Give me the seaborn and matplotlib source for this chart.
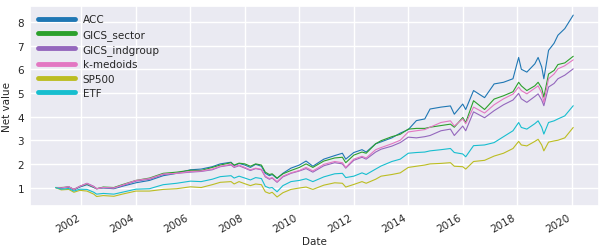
import pandas as pd
import numpy as np
import matplotlib.pyplot as plt
import seaborn as sns

# Daty
dates = ['2001-01-19', '2001-04-04', '2001-07-15', '2001-09-21', '2001-12-10',
         '2002-03-15', '2002-06-15', '2002-07-23', '2002-10-20', '2003-03-11',
         '2003-07-01', '2004-01-01', '2004-07-01', '2005-01-01', '2005-07-01',
         '2006-01-01', '2006-05-25', '2006-10-20', '2007-02-05', '2007-06-30',
         '2007-08-10', '2007-10-15', '2008-01-01', '2008-03-15', '2008-05-25',
         '2008-08-10', '2008-10-01', '2008-11-25', '2009-01-01', '2009-03-08',
         '2009-05-25', '2009-09-10', '2010-01-01', '2010-04-01', '2010-07-01',
         '2010-11-25', '2011-04-20', '2011-08-01', '2011-09-15', '2012-01-01',
         '2012-04-20', '2012-06-15', '2012-10-20', '2013-01-01', '2013-05-25',
         '2013-09-15', '2014-01-01', '2014-04-20', '2014-08-10', '2014-10-20',
         '2015-03-15', '2015-07-20', '2015-09-10', '2016-01-01', '2016-02-10',
         '2016-05-25', '2016-10-20', '2017-02-25', '2017-07-01', '2017-11-05',
         '2018-01-20', '2018-02-25', '2018-05-10', '2018-08-25', '2018-10-08',
         '2018-11-25', '2018-12-24', '2019-02-25', '2019-05-10', '2019-07-01',
         '2019-10-01', '2020-01-22']

acc = [1.00, 0.97, 1.02, 0.90, 1.02, 1.12, 1.00, 0.95, 0.98, 0.95,
       1.05, 1.20, 1.30, 1.50, 1.60, 1.75, 1.78, 1.88, 2.00, 2.07,
       1.92, 2.02, 1.95, 1.85, 1.98, 1.90, 1.60, 1.50, 1.55, 1.38,
       1.60, 1.82, 1.95, 2.12, 1.90, 2.20, 2.35, 2.45, 2.20, 2.48,
       2.60, 2.50, 2.85, 2.93, 3.10, 3.30, 3.45, 3.83, 3.90, 4.32,
       4.40, 4.45, 4.10, 4.53, 4.30, 5.10, 4.80, 5.38, 5.45, 5.60,
       6.50, 6.00, 5.88, 6.23, 6.50, 6.10, 5.60, 6.80, 7.10, 7.44,
       7.72, 8.29]
gics_sector = [1.00, 1.00, 1.02, 0.92, 1.05, 1.15, 1.02, 0.95, 1.02, 1.00,
               1.12, 1.30, 1.40, 1.60, 1.65, 1.73, 1.72, 1.85, 1.95, 2.05,
               1.95, 2.03, 2.00, 1.90, 2.00, 1.95, 1.65, 1.55, 1.58, 1.40,
               1.58, 1.72, 1.85, 2.00, 1.85, 2.12, 2.25, 2.28, 2.05, 2.37,
               2.50, 2.45, 2.85, 2.98, 3.15, 3.25, 3.47, 3.50, 3.50, 3.55,
               3.62, 3.68, 3.55, 3.96, 3.75, 4.67, 4.30, 4.74, 4.88, 5.05,
               5.45, 5.30, 5.10, 5.30, 5.45, 5.20, 4.82, 5.80, 5.95, 6.20,
               6.27, 6.55]
gics_indgroup = [1.00, 0.98, 1.03, 0.92, 1.05, 1.18, 1.05, 0.95, 1.00, 0.98,
                 1.08, 1.27, 1.35, 1.55, 1.60, 1.65, 1.68, 1.75, 1.88, 1.95,
                 1.85, 1.92, 1.82, 1.72, 1.80, 1.75, 1.45, 1.35, 1.40, 1.22,
                 1.45, 1.60, 1.70, 1.80, 1.65, 1.92, 2.05, 2.00, 1.82, 2.15,
                 2.28, 2.20, 2.50, 2.62, 2.75, 2.90, 3.13, 3.10, 3.15, 3.20,
                 3.40, 3.47, 3.20, 3.60, 3.40, 4.20, 3.95, 4.25, 4.50, 4.70,
                 4.98, 4.75, 4.60, 4.85, 4.96, 4.70, 4.46, 5.25, 5.40, 5.60,
                 5.75, 6.02]
k_medoids = [1.00, 0.98, 1.03, 0.92, 1.05, 1.17, 1.03, 0.95, 1.00, 0.98,
             1.10, 1.30, 1.38, 1.57, 1.60, 1.68, 1.70, 1.78, 1.90, 1.98,
             1.88, 1.95, 1.85, 1.75, 1.82, 1.77, 1.48, 1.38, 1.42, 1.25,
             1.48, 1.62, 1.72, 1.85, 1.70, 1.98, 2.10, 2.05, 1.85, 2.20,
             2.32, 2.25, 2.60, 2.69, 2.85, 3.00, 3.35, 3.40, 3.45, 3.55,
             3.75, 3.82, 3.60, 3.90, 3.70, 4.40, 4.15, 4.50, 4.75, 4.95,
             5.25, 5.10, 4.96, 5.20, 5.30, 5.00, 4.60, 5.60, 5.80, 6.02,
             6.15, 6.40]
sp500 = [1.00, 0.90, 0.92, 0.80, 0.88, 0.85, 0.72, 0.62, 0.66, 0.63,
         0.72, 0.85, 0.85, 0.92, 0.95, 1.03, 1.00, 1.12, 1.22, 1.25,
         1.15, 1.25, 1.16, 1.08, 1.15, 1.12, 0.82, 0.75, 0.80, 0.60,
         0.78, 0.92, 0.98, 1.02, 0.92, 1.10, 1.20, 1.18, 1.02, 1.13,
         1.25, 1.18, 1.35, 1.48, 1.55, 1.62, 1.85, 1.90, 1.95, 2.00,
         2.02, 2.05, 1.90, 1.88, 1.78, 2.10, 2.15, 2.33, 2.45, 2.65,
         2.95, 2.80, 2.76, 2.95, 3.04, 2.80, 2.55, 2.92, 2.97, 3.00,
         3.10, 3.54]
etf = [1.00, 0.93, 0.96, 0.85, 0.93, 0.92, 0.80, 0.72, 0.75, 0.72,
       0.80, 0.93, 0.95, 1.12, 1.18, 1.27, 1.25, 1.35, 1.46, 1.50,
       1.40, 1.48, 1.40, 1.32, 1.42, 1.38, 1.05, 0.98, 1.00, 0.82,
       1.08, 1.25, 1.30, 1.37, 1.25, 1.45, 1.58, 1.60, 1.42, 1.48,
       1.62, 1.55, 1.78, 1.91, 2.10, 2.20, 2.45, 2.48, 2.50, 2.55,
       2.60, 2.65, 2.48, 2.42, 2.30, 2.77, 2.80, 2.90, 3.15, 3.40,
       3.75, 3.54, 3.47, 3.70, 3.82, 3.55, 3.26, 3.75, 3.82, 3.90,
       4.03, 4.46]

names = ['ACC', 'GICS_sector', 'GICS_indgroup', 'k-medoids', 'SP500', 'ETF']
colors = ['#1f77b4', '#2ca02c', '#9467bd', '#e377c2', '#bcbd22', '#17becf']

df = pd.DataFrame({'Date': pd.to_datetime(dates), 'ACC': acc,
                   'GICS_sector': gics_sector, 'GICS_indgroup': gics_indgroup,
                   'k-medoids': k_medoids, 'SP500': sp500, 'ETF': etf})
df_long = df.melt(id_vars='Date', var_name='Strategy', value_name='Net value')

sns.set_theme(style='darkgrid')
plt.rcParams['font.family'] = ['DejaVu Sans']
plt.rcParams['font.size'] = 7

fig, ax = plt.subplots(figsize=(6.07, 2.51), dpi=100)
sns.lineplot(data=df_long, x='Date', y='Net value', hue='Strategy',
             hue_order=names, palette=colors, linewidth=0.8, ax=ax)

leg = ax.legend(loc='upper left', fontsize=7.5, frameon=False,
                handlelength=3.5, labelspacing=0.42, borderaxespad=0.4)
for h in leg.legend_handles:
    h.set_linewidth(3.5)

ax.tick_params(labelsize=7.5, length=0, pad=4)
ax.set_xlabel('Date', fontsize=7.5, labelpad=2)
ax.set_ylabel('Net value', fontsize=7.5, labelpad=4)
fig.autofmt_xdate(rotation=30)
fig.subplots_adjust(left=0.049, right=0.987, top=0.972, bottom=0.175)
plt.savefig('out.png', dpi=100)
